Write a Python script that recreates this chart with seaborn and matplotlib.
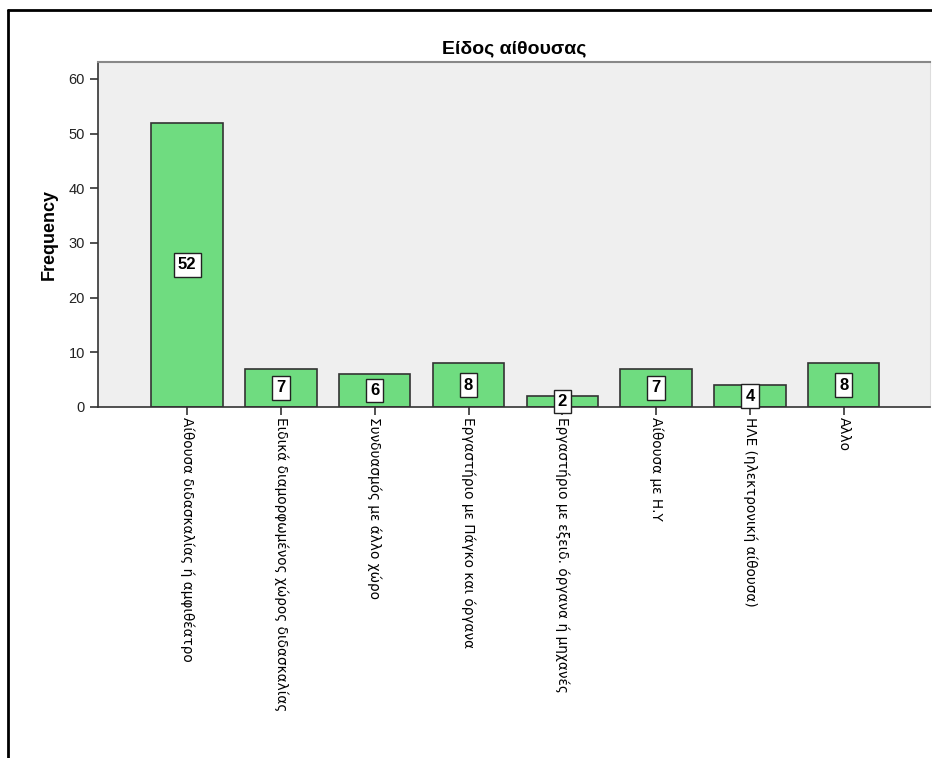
import matplotlib
matplotlib.use("Agg")
import matplotlib.pyplot as plt
import seaborn as sns
import pandas as pd
from matplotlib.lines import Line2D

# Είδος αίθουσας - συχνότητες
categories = [
    "Αίθουσα διδασκαλίας ή αμφιθέατρο",
    "Ειδικά διαμορφωμένος χώρος διδασκαλίας",
    "Συνδυασμός με άλλο χώρο",
    "Εργαστήριο με Πάγκο και όργανα",
    "Εργαστήριο με εξειδ. όργανα ή μηχανές",
    "Αίθουσα με Η.Υ",
    "ΗΛΕ (ηλεκτρονική αίθουσα)",
    "Αλλο",
]
counts = [52, 7, 6, 8, 2, 7, 4, 8]

df = pd.DataFrame({"cat": categories, "freq": counts})

sns.set_style("ticks")
plt.rcParams["font.family"] = ["Liberation Sans", "DejaVu Sans"]
plt.rcParams["text.color"] = "black"
plt.rcParams["axes.labelcolor"] = "black"
plt.rcParams["xtick.color"] = "black"
plt.rcParams["ytick.color"] = "black"

fig = plt.figure(figsize=(9.32, 7.58), dpi=100)
ax = fig.add_axes([98 / 932, 1 - 407 / 758, 832 / 932, 345 / 758])
ax.set_facecolor("#efefef")

sns.barplot(data=df, x="cat", y="freq", ax=ax, color="#6fdc80",
            edgecolor="#333333", linewidth=1.2, width=0.76, saturation=1)

for i, v in enumerate(counts):
    ax.text(i, v / 2, str(v), ha="center", va="center", fontsize=12,
            fontweight="bold", color="black",
            bbox=dict(boxstyle="square,pad=0.25", fc="white", ec="#222222", lw=1))

ax.set_xlim(-0.95, 7.92)
ax.set_ylim(0, 63.1)
ax.set_yticks([0, 10, 20, 30, 40, 50, 60])
ax.set_xlabel("")
ax.set_ylabel("Frequency", fontsize=13, fontweight="bold", labelpad=8)
ax.set_title("Είδος αίθουσας", fontsize=14, fontweight="bold", pad=6)

ax.tick_params(axis="y", labelsize=10.5, length=6, width=1.2, color="#333333",
               labelcolor="#222222")
ax.tick_params(axis="x", length=6, width=1.2, color="#333333", pad=1)
ax.set_xticks(range(len(categories)))
ax.set_xticklabels(categories, rotation=270, fontsize=9.8, va="top", ha="center",
                   family=["DejaVu Sans"], color="black")

for s in ["left", "bottom"]:
    ax.spines[s].set_linewidth(1.2)
    ax.spines[s].set_color("#333333")
ax.spines["top"].set_visible(True)
ax.spines["top"].set_color("#888888")
ax.spines["top"].set_linewidth(1.5)
ax.spines["right"].set_visible(True)
ax.spines["right"].set_color("#dddddd")

# outer frame
fig.add_artist(Line2D([8 / 932, 8 / 932], [0, 1 - 10 / 758], transform=fig.transFigure,
                      color="black", lw=2))
fig.add_artist(Line2D([8 / 932, 1], [1 - 10 / 758, 1 - 10 / 758], transform=fig.transFigure,
                      color="black", lw=2))

fig.savefig("out.png", dpi=100)
